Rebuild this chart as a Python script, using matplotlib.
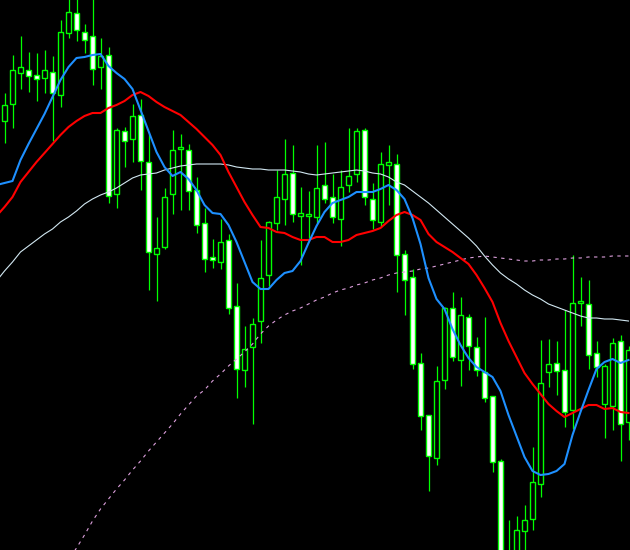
import numpy as np
import matplotlib
matplotlib.use("Agg")
import matplotlib.pyplot as plt

nan = np.nan

# candles, oldest first (price units)
opens = [429, 446, 477, 480, 475, 472, 478, 455, 517, 537,
         518, 514, 483, 495, 356, 419, 411, 435, 388, 296,
         303, 356, 401, 400, 360, 327, 293, 288, 310, 244,
         180, 203, 229, 275, 327, 351, 377, 334, 334, 333,
         365, 353, 331, 365, 376, 420, 351, 328, 385, 386,
         296, 273, 187, 135, 92, 170, 242, 190, 233, 203,
         178, 154, 89, -10, -12, 19, 31, 66, 178, 187,
         180, 140, 247, 246, 197, 146, 144, 209, 128]
closes = [445, 480, 483, 474, 471, 480, 457, 518, 538, 520,
          510, 481, 494, 354, 420, 409, 434, 389, 298, 302,
          353, 400, 403, 359, 325, 291, 290, 308, 242, 181,
          201, 226, 272, 328, 353, 376, 336, 337, 336, 362,
          351, 333, 363, 374, 419, 353, 330, 386, 388, 295,
          270, 186, 134, 94, 169, 242, 193, 235, 204, 180,
          152, 88, -10, -6, 20, 30, 68, 167, 186, 179,
          138, 247, 249, 195, 183, 184, 207, 126, 200]
highs = [457, 495, 514, 498, 497, 500, 494, 530, 555, 553,
         526, 552, 512, 503, 422, 423, 446, 451, 416, 333,
         362, 420, 416, 406, 373, 342, 311, 331, 316, 267,
         224, 232, 310, 329, 380, 411, 405, 363, 359, 405,
         408, 376, 380, 422, 422, 422, 367, 398, 405, 396,
         300, 281, 197, 135, 184, 243, 258, 253, 236, 213,
         233, 154, 91, 30, 34, 45, 103, 210, 211, 209,
         240, 295, 273, 270, 209, 186, 212, 215, 204]
lows = [407, 422, 461, 458, 449, 457, 409, 443, 512, 509,
        497, 465, 461, 347, 342, 383, 388, 360, 260, 249,
        301, 336, 340, 340, 317, 278, 282, 281, 236, 152,
        163, 126, 207, 264, 320, 325, 328, 285, 312, 327,
        347, 327, 304, 358, 368, 345, 321, 323, 345, 258,
        235, 181, 120, 59, 85, 161, 189, 164, 180, 174,
        148, 78, -20, -25, -20, -15, 20, 53, 163, 155,
        123, 121, 224, 181, 173, 112, 120, 89, 110]

# moving averages, one value per bar starting one bar before the first candle
ma_fast = [365, 367, 369, 390, 406, 421, 436, 453, 470, 483,
           492, 493, 495, 496, 484, 477, 471, 461, 440, 419,
           398, 383, 374, 378, 371, 360, 345, 337, 336, 325,
           308, 288, 268, 261, 261, 270, 277, 279, 289, 307,
           324, 338, 347, 350, 353, 358, 358, 358, 361, 365,
           360, 351, 332, 306, 272, 251, 241, 221, 205, 192,
           183, 178, 173, 159, 135, 114, 93, 79, 75, 76,
           79, 86, 115, 138, 160, 181, 188, 191, 187, 190]
ma_mid = [334, 343, 353, 368, 378, 388, 397, 406, 415, 423,
          429, 434, 437, 437, 442, 445, 449, 455, 458, 454,
          448, 443, 439, 435, 428, 421, 413, 405, 395, 378,
          363, 348, 335, 323, 322, 318, 317, 313, 310, 310,
          313, 313, 308, 308, 310, 315, 317, 319, 322, 329,
          335, 338, 335, 330, 316, 308, 303, 298, 292, 286,
          275, 262, 248, 227, 209, 193, 177, 166, 156, 146,
          139, 133, 137, 141, 145, 145, 141, 142, 138, 137]
ma_slow = [269, 279, 288, 298, 304, 310, 316, 321, 328, 333,
           339, 346, 351, 355, 358, 362, 367, 372, 375, 376,
           377, 380, 382, 384, 385, 386, 386, 386, 386, 385,
           383, 382, 381, 381, 380, 380, 380, 379, 378, 376,
           375, 376, 377, 378, 379, 380, 379, 377, 376, 373,
           368, 365, 359, 353, 347, 340, 333, 326, 319, 312,
           304, 294, 285, 277, 271, 266, 260, 255, 251, 246,
           243, 240, 237, 234, 232, 232, 231, 231, 230, 229]
ma_long = [nan, nan, nan, nan, nan, -65, -50, -35, -22, -10,
           2, 15, 29, 41, 51, 61, 70, 80, 89, 99,
           108, 117, 126, 136, 145, 154, 160, 169, 176, 184,
           191, 198, 206, 216, 224, 230, 235, 239, 242, 246,
           250, 253, 257, 260, 262, 265, 267, 270, 272, 275,
           277, 278, 279, 281, 282, 284, 286, 288, 290, 292,
           293, 294, 293, 292, 291, 290, 289, 289, 290, 290,
           291, 291, 292, 292, 293, 293, 293, 294, 294, 294]

GREEN = "#00ff00"

o = np.array(opens)
c = np.array(closes)
x = np.arange(len(opens))
x_ma = np.arange(-1, len(opens))

fig = plt.figure(figsize=(6.3, 5.5), dpi=100, facecolor="black")
ax = fig.add_axes([0, 0, 1, 1])
ax.set_facecolor("black")

# wicks then bodies (bull = black fill, bear = white fill)
ax.vlines(x, lows, highs, color=GREEN, linewidth=0.9, zorder=1)
fills = np.where(c >= o, "black", "white")
ax.bar(x, np.abs(c - o), bottom=np.minimum(o, c), width=0.62,
       color=fills, edgecolor=GREEN, linewidth=1.0, zorder=2)

ax.plot(x_ma, ma_long, color="#dda0dd", linewidth=0.8,
        linestyle=(0, (3, 4)), zorder=3)
ax.plot(x_ma, ma_slow, color="#d2e8f2", linewidth=0.8, zorder=3)
ax.plot(x_ma, ma_mid, color="#ff0000", linewidth=1.5, zorder=4)
ax.plot(x_ma, ma_fast, color="#1e90ff", linewidth=1.5, zorder=5)

ax.set_xlim(-0.5625, 78.1875)
ax.set_ylim(0, 550)
ax.axis("off")

fig.savefig("out.png", dpi=100, facecolor="black")
